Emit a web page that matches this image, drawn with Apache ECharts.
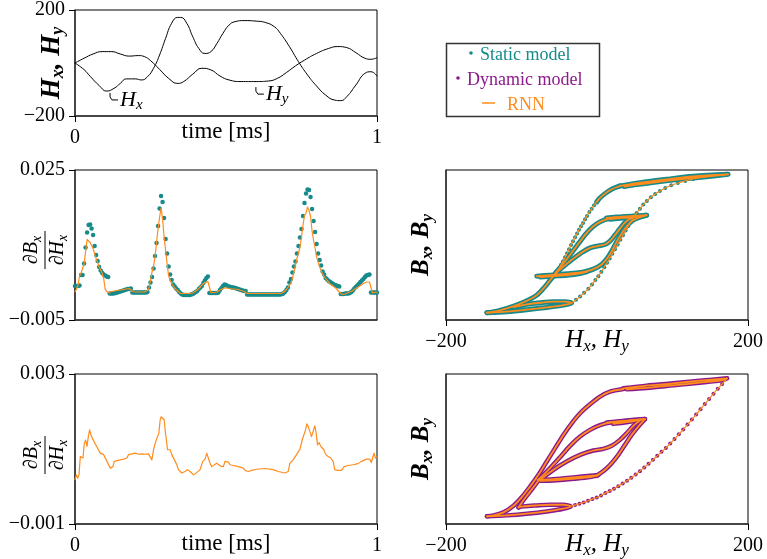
<!DOCTYPE html>
<html>
<head>
<meta charset="utf-8">
<script src="https://cdn.jsdelivr.net/npm/echarts@6.0.0/dist/echarts.min.js"></script>
<style>
html, body { margin: 0; padding: 0; background: #fff; }
#main { width: 767px; height: 559px; }
</style>
</head>
<body>
<div id="main"></div>
<script>
// ---- panel 1: field strength over time
var hxT = [0,0.03,0.05,0.08,0.105,0.13,0.15,0.17,0.2,0.22,0.24,0.26,0.28,0.3,0.32,0.34,0.35,0.37,0.39,0.41,0.43,0.45,0.47,0.49,0.51,0.53,0.56,0.6,0.63,0.66,0.68,0.71,0.74,0.77,0.8,0.83,0.86,0.88,0.9,0.93,0.96,0.98,1.0];
var hx  = [0,-25,-50,-85,-106,-95,-77,-60,-60,-64,-52,-20,30,93,150,172,172,150,99,55,36,43,74,112,143,156,160,158,153,137,112,62,5,-45,-87,-121,-140,-142,-127,-83,-39,-33,-49];
var hyT = [0,0.03,0.06,0.09,0.12,0.15,0.18,0.21,0.23,0.25,0.28,0.31,0.34,0.36,0.39,0.42,0.45,0.48,0.51,0.55,0.6,0.64,0.67,0.7,0.73,0.76,0.8,0.84,0.87,0.9,0.93,0.96,0.98,1.0];
var hy  = [0,18,34,43,43,34,26,28,24,9,-24,-58,-77,-70,-42,-20,-26,-49,-64,-70,-70,-68,-58,-36,-11,11,36,55,62,58,39,18,14,20];
var timeTicks = [0, 1];
var hTicks = [-200, 200];

// ---- panel 2: dBx/dHx (x1e-3), sampled every DT ms
var DT = 0.005;
var staticDbdh = [
  1.8,1.8,1.8,1.9,4.0,4.0,6.3,9.5,12.5,14.0,
  14.1,13.3,12.0,9.8,8.0,6.8,5.6,4.9,4.4,4.1,
  3.9,3.7,3.6,0.3,0.3,0.3,0.35,0.4,0.5,0.6,
  0.7,0.8,0.9,1.0,1.1,1.2,1.2,1.3,0.5,0.5,
  0.5,0.5,0.5,0.5,0.5,0.5,0.5,0.5,0.6,1.5,
  2.5,3.6,5.3,7.8,10.4,13.8,17.3,19.8,18.6,15.4,
  11.2,8.3,5.7,4.1,3.0,2.1,1.7,1.3,1.0,0.6,
  0.3,0.1,0.0,0.0,0.0,0.0,0.0,0.1,0.2,0.4,
  0.6,0.8,1.2,1.5,1.8,2.4,2.9,3.4,3.7,0.4,
  0.4,0.4,0.4,0.4,0.4,0.5,1.0,1.4,1.8,2.1,
  2.0,1.8,1.7,1.6,1.5,1.5,1.4,1.3,1.2,1.1,
  1.0,0.9,0.8,0.8,0.1,0.1,0.1,0.1,0.1,0.1,
  0.1,0.1,0.1,0.1,0.1,0.1,0.1,0.1,0.1,0.1,
  0.1,0.1,0.1,0.1,0.1,0.1,0.1,0.2,0.3,0.6,
  1.0,1.5,2.5,3.2,4.5,5.7,6.7,8.3,9.8,11.5,
  13.2,15.8,18.4,20.3,21.1,21.0,19.6,17.2,14.8,12.6,
  10.2,8.3,7.0,5.9,4.7,4.1,3.4,3.1,2.8,2.6,
  2.4,2.2,2.0,1.9,1.8,1.7,0.2,0.2,0.2,0.3,
  0.3,0.3,0.4,0.6,0.9,1.3,1.6,1.9,2.2,2.6,
  2.9,3.2,3.6,3.9,4.0,4.1,0.5,0.5,0.5,0.5,
  0.5];
var rnnDbdh = [
  0.65,1.2,2.0,3.8,4.4,4.8,6.2,8.6,11.1,11.0,
  10.5,10.1,9.3,8.2,7.3,6.5,5.6,5.0,4.3,3.3,
  1.1,0.9,0.4,0.6,0.7,0.7,0.8,0.9,0.9,1.0,
  1.0,1.1,1.1,1.2,1.2,1.2,1.3,1.0,0.7,0.6,
  0.6,0.6,0.6,0.6,0.6,0.6,0.6,0.6,0.9,1.4,
  2.9,4.6,5.8,7.6,10.5,13.2,15.5,17.4,15.2,11.6,
  9.0,6.2,3.9,3.0,2.3,1.9,1.4,1.1,0.8,0.5,
  0.3,0.3,0.3,0.3,0.3,0.3,0.3,0.3,0.4,0.6,
  0.8,1.0,1.3,1.6,2.0,2.3,2.5,2.7,2.7,2.3,
  0.5,0.5,0.5,0.5,0.6,0.8,1.0,1.2,1.3,1.4,
  1.45,1.4,1.3,1.2,1.2,1.2,1.2,1.2,1.1,1.0,
  0.9,0.8,0.7,0.6,0.3,0.3,0.3,0.3,0.3,0.3,
  0.3,0.3,0.3,0.3,0.3,0.3,0.3,0.3,0.3,0.3,
  0.3,0.3,0.3,0.3,0.3,0.3,0.3,0.3,0.5,0.8,
  1.1,1.4,1.9,2.4,3.3,4.6,6.0,7.3,8.4,9.6,
  11.6,14.0,15.9,16.4,17.6,16.9,15.7,12.8,10.9,9.4,
  7.6,6.6,5.6,4.9,4.2,3.7,3.3,2.9,2.5,2.2,
  2.0,1.8,1.5,1.3,1.0,0.6,0.3,0.1,0.0,0.2,
  0.5,0.5,0.6,0.7,1.0,1.1,1.3,1.5,1.7,1.9,
  2.1,2.3,2.5,2.6,2.8,2.6,1.5,0.4,0.6,0.6,
  0.5];
var dbdhTicks = [-5, 25];

// ---- panel 3: RNN for dynamic model (t, x1e-3)
var rnnDynDbdh = [
  [0,0.18],[0.0044,0.31],[0.0088,0.22],[0.0132,0.31],[0.0176,0.80],[0.022,0.85],[0.0264,0.76],[0.0308,1.15],
  [0.0353,1.24],[0.0397,1.07],[0.0441,1.33],[0.0485,1.51],[0.0529,1.38],[0.0573,1.29],[0.0617,1.24],[0.0661,1.15],
  [0.0705,1.11],[0.0749,1.02],[0.0793,0.98],[0.0837,0.89],[0.0892,0.87],[0.0947,0.85],[0.1002,0.80],[0.1058,0.67],
  [0.1113,0.67],[0.1168,0.49],[0.1212,0.45],[0.1256,0.53],[0.13,0.67],[0.1388,0.69],[0.1498,0.71],[0.1608,0.73],
  [0.1718,0.76],[0.1774,0.85],[0.1884,0.87],[0.1994,0.89],[0.2049,0.92],[0.2104,0.86],[0.2214,0.87],[0.2324,0.86],
  [0.2434,0.87],[0.249,0.82],[0.2545,0.71],[0.26,0.98],[0.2655,1.15],[0.2732,1.33],[0.2776,1.42],[0.282,1.78],
  [0.2853,1.86],[0.2908,1.85],[0.2952,1.78],[0.2996,1.42],[0.304,1.15],[0.3062,0.98],[0.3106,0.93],[0.315,0.98],
  [0.3206,0.85],[0.3261,0.85],[0.3316,0.67],[0.3371,0.58],[0.3426,0.45],[0.3536,0.36],[0.3646,0.40],[0.3723,0.45],
  [0.3811,0.40],[0.3922,0.31],[0.4032,0.37],[0.4142,0.45],[0.423,0.67],[0.4307,0.73],[0.4362,0.89],[0.4417,0.89],
  [0.4472,0.62],[0.4527,0.53],[0.4583,0.58],[0.4693,0.62],[0.4803,0.55],[0.4913,0.53],[0.4967,0.67],[0.5077,0.65],
  [0.5132,0.58],[0.5243,0.56],[0.5408,0.53],[0.5573,0.49],[0.565,0.42],[0.5738,0.40],[0.5848,0.43],[0.6013,0.46],
  [0.6289,0.48],[0.6564,0.45],[0.6729,0.40],[0.695,0.36],[0.706,0.40],[0.7115,0.62],[0.7225,0.71],[0.7335,0.85],
  [0.7446,0.99],[0.7523,1.24],[0.7589,1.24],[0.7633,1.51],[0.7677,1.67],[0.7721,1.60],[0.7776,1.47],[0.7831,1.33],
  [0.7886,1.47],[0.7941,1.62],[0.7986,1.42],[0.803,1.11],[0.8085,1.17],[0.814,1.07],[0.8195,1.11],[0.8239,0.98],
  [0.8305,0.85],[0.8382,0.80],[0.8471,0.76],[0.8547,0.67],[0.8602,0.45],[0.8713,0.43],[0.8823,0.43],[0.8911,0.53],
  [0.9043,0.56],[0.9208,0.58],[0.9374,0.61],[0.9484,0.67],[0.9649,0.73],[0.9759,0.73],[0.9814,0.64],[0.9869,0.80],
  [0.9902,0.89],[0.9946,0.76],[1.0,0.79]];
var dynTicks = [-1, 3];

// ---- panel 4: static model B-H paths (H, B normalised)
var stTopLoop = [[30.4,0.787],[56.9,0.831],[92.1,0.876],[127.4,0.916],[173.6,0.942],[145.0,0.911],[109.8,0.876],[78.9,0.840],[52.5,0.805],[36.2,0.778]];
var stUpperArc = [[30.4,0.787],[19.4,0.743],[10.6,0.685],[3.1,0.619],[-0.4,0.574]];
var stArcDots = [[-0.4,0.574],[-3.9,0.530],[-7.0,0.485],[-10.1,0.441],[-13.2,0.388],[-15.8,0.344],[-18.5,0.295],[-21.1,0.250],[-23.8,0.202],[-26.4,0.153],[-29.0,0.104],[-31.7,0.051],[-34.3,0.000],[-37.0,-0.056],[-39.6,-0.109],[-42.3,-0.162],[-44.9,-0.215],[-47.6,-0.264],[-50.2,-0.313],[-52.8,-0.357]];
var stLowerArc = [[-52.8,-0.357],[-58.6,-0.424],[-64.3,-0.499],[-70.9,-0.579],[-79.7,-0.668],[-90.7,-0.734],[-104.0,-0.792],[-119.4,-0.845],[-132.6,-0.881],[-145.8,-0.903]];
var stBottomLoop = [[-145.8,-0.903],[-119.4,-0.889],[-92.9,-0.863],[-66.5,-0.832],[-44.5,-0.801],[-33.5,-0.774],[-42.3,-0.756],[-57.7,-0.756],[-75.3,-0.770],[-92.9,-0.792],[-110.6,-0.827]];
var stRising = [[-33.5,-0.774],[-27.7,-0.730],[-22.4,-0.685],[-17.1,-0.637],[-11.4,-0.583],[-6.6,-0.526],[-2.2,-0.468],[1.8,-0.415],[5.8,-0.357],[9.7,-0.295],[13.3,-0.237],[16.8,-0.180],[20.3,-0.118],[23.8,-0.056],[27.4,0.007],[30.9,0.069],[34.4,0.131],[37.9,0.193],[41.5,0.255],[45.0,0.312],[48.5,0.370],[52.5,0.428],[56.9,0.485],[61.3,0.539],[66.1,0.587],[71.4,0.636],[77.1,0.681],[83.3,0.720],[90.4,0.760],[98.3,0.796],[107.1,0.827],[116.8,0.854],[127.4,0.880],[138.8,0.902],[151.2,0.920],[162.6,0.933],[173.6,0.942]];
var stInnerLow = [[-79.7,-0.415],[-62.1,-0.402],[-40.1,-0.384],[-22.4,-0.366],[-13.6,-0.357],[-22.4,-0.379],[-40.1,-0.402],[-57.7,-0.415],[-75.3,-0.428]];
var stInnerTop = [[12.8,0.361],[30.4,0.375],[48.1,0.388],[65.7,0.397],[52.5,0.375],[34.8,0.361],[17.2,0.344]];
var stInnerLeft = [[-55.5,-0.379],[-48.0,-0.291],[-40.1,-0.189],[-32.1,-0.082],[-23.8,0.029],[-15.0,0.144],[-5.7,0.242],[4.0,0.308],[15.0,0.352],[26.0,0.370]];
var stInnerMid = [[-53.3,-0.366],[-42.3,-0.268],[-31.2,-0.180],[-20.2,-0.100],[-9.2,-0.038],[1.8,-0.011],[10.6,0.007],[17.2,0.051],[23.8,0.131],[30.4,0.219],[37.0,0.299],[43.7,0.352],[52.5,0.379]];
var stInnerRight = [[-18.0,-0.362],[-4.8,-0.322],[6.2,-0.260],[14.1,-0.171],[20.3,-0.069],[26.0,0.042],[32.6,0.153],[39.3,0.250],[47.2,0.326],[56.9,0.370],[65.7,0.397]];

// ---- panel 5: dynamic model B-H paths
var dyTopLoop = [[34.8,0.809],[65.7,0.845],[100.9,0.876],[136.2,0.911],[172.3,0.942],[167.0,0.920],[136.2,0.884],[100.9,0.849],[65.7,0.814],[39.3,0.796]];
var dyOuterArc = [[34.8,0.800],[17.2,0.765],[4.0,0.698],[-9.2,0.596],[-22.4,0.476],[-33.5,0.343],[-44.5,0.188],[-55.5,0.011],[-66.5,-0.167],[-77.5,-0.344],[-88.5,-0.499],[-99.5,-0.641],[-110.6,-0.756],[-123.8,-0.845],[-137.0,-0.885],[-145.8,-0.898]];
var dyBottomLoop = [[-145.8,-0.898],[-119.4,-0.885],[-92.9,-0.863],[-66.5,-0.832],[-44.5,-0.796],[-34.8,-0.765],[-44.5,-0.743],[-62.1,-0.743],[-79.7,-0.752],[-97.3,-0.765],[-104.0,-0.779]];
var dyConnector = [[-104.0,-0.779],[-99.5,-0.712],[-92.9,-0.623],[-85.0,-0.521],[-77.5,-0.419]];
var dyRising = [[-34.8,-0.765],[-29.0,-0.748],[-23.3,-0.730],[-17.6,-0.712],[-11.9,-0.690],[-6.1,-0.668],[-0.4,-0.646],[5.3,-0.619],[11.1,-0.588],[16.8,-0.561],[22.5,-0.530],[28.2,-0.495],[34.0,-0.459],[39.7,-0.424],[45.4,-0.384],[51.2,-0.340],[56.9,-0.295],[62.6,-0.246],[68.3,-0.198],[74.1,-0.144],[79.8,-0.091],[85.5,-0.038],[91.2,0.015],[97.0,0.073],[102.7,0.135],[108.4,0.197],[114.2,0.259],[119.9,0.326],[125.6,0.392],[131.3,0.459],[137.1,0.530],[142.8,0.601],[148.5,0.667],[154.3,0.738],[160.0,0.805],[165.7,0.867],[172.3,0.942]];
var dyInnerLow = [[-78.8,-0.410],[-57.7,-0.402],[-31.2,-0.379],[-9.2,-0.357],[1.8,-0.348],[-9.2,-0.375],[-31.2,-0.397],[-57.7,-0.419],[-75.3,-0.424]];
var dyInnerLeft = [[-77.5,-0.410],[-62.1,-0.255],[-48.9,-0.109],[-35.7,0.042],[-22.4,0.166],[-9.2,0.255],[4.0,0.317],[17.2,0.352],[39.3,0.374],[63.5,0.397]];
var dyInnerTop = [[12.8,0.352],[39.3,0.379],[63.5,0.401],[52.5,0.379],[39.3,0.357],[21.6,0.335]];
var dyInnerMid = [[-75.3,-0.410],[-57.7,-0.277],[-40.1,-0.167],[-22.4,-0.078],[-4.8,-0.020],[8.4,0.002],[19.4,0.042],[30.4,0.122],[39.3,0.210],[48.1,0.308],[56.9,0.379]];
var dyInnerRight = [[-0.4,-0.357],[10.6,-0.277],[19.4,-0.189],[28.2,-0.078],[37.0,0.055],[45.9,0.188],[54.7,0.299],[63.5,0.397]];
var bRange = [-1, 1];

// annotation anchors in panel 1 (t, H)
var hookAt = [[0.116, -113], [0.599, -91]];
var hookSub = ['x', 'y'];

var SERIF = '"Liberation Serif", "Times New Roman", "DejaVu Serif", serif';
var TEAL = '#178a8a', PURPLE = '#8b1a8b', ORANGE = '#ff8c1c';

var chart = echarts.init(document.getElementById('main'));

function minus(v) { return String(v).replace('-', '\u2212'); }
function milli(v) { return minus((v / 1000).toFixed(3)); }
function zip(a, b) { return a.map(function (v, i) { return [v, b[i]]; }); }
function onGrid(vals) { return vals.map(function (v, i) { return [i * DT, v]; }); }

function subRich(bold, size, sub, pad) {
    return {
        b: {fontFamily: SERIF, fontSize: size, fontStyle: 'italic', fontWeight: bold ? 'bold' : 'normal', color: '#000'},
        s: {fontFamily: SERIF, fontSize: sub, fontStyle: 'italic', fontWeight: bold ? 'bold' : 'normal', color: '#000', padding: [pad, 0, 0, 0]}
    };
}

function axis(gi, ticks, o) {
    var a = {
        gridIndex: gi, type: 'value', min: ticks[0], max: ticks[1], interval: ticks[1] - ticks[0],
        axisLine: {show: true, onZero: false, lineStyle: {color: '#333', width: 1.5}},
        axisTick: {show: o.ticks !== false, length: 6, lineStyle: {color: '#000', width: 1}},
        axisLabel: {show: o.labels !== false, margin: o.margin || 12, fontSize: 20, fontFamily: SERIF, color: '#000', formatter: o.fmt || minus},
        splitLine: {show: false},
        nameMoveOverlap: false
    };
    if (o.name) {
        a.name = o.name;
        a.nameLocation = 'middle';
        a.nameGap = o.gap;
        a.nameRotate = o.rot || 0;
        a.nameTextStyle = {color: '#000', fontFamily: SERIF, fontSize: 23, rich: o.rich};
    }
    return a;
}

function grid(l, t, w, h) {
    return {left: l, top: t, width: w, height: h, show: true, borderColor: '#000', borderWidth: 1,
        containLabel: false, outerBoundsMode: 'none'};
}

function line(ax, data, color, width, smooth) {
    return {type: 'line', xAxisIndex: ax, yAxisIndex: ax, data: data, symbol: 'none', showSymbol: false,
        smooth: smooth, silent: true, lineStyle: {color: color, width: width, join: 'round', cap: 'round'}};
}
function dots(ax, data, color, size) {
    return {type: 'scatter', xAxisIndex: ax, yAxisIndex: ax, data: data, symbolSize: size, silent: true,
        itemStyle: {color: color, opacity: 1}};
}

var series = [];
// panel 1
series.push(line(0, zip(hxT, hx), '#000', 1, 0.5));
series.push(line(0, zip(hyT, hy), '#000', 1, 0.5));
// panel 2
series.push(dots(1, onGrid(staticDbdh), TEAL, 4.5));
series.push(line(1, onGrid(rnnDbdh), ORANGE, 1.2, false));
// panel 3
series.push(line(2, rnnDynDbdh, ORANGE, 1.2, false));
// panel 4
var stBands = [stTopLoop, stUpperArc, stLowerArc, stBottomLoop, stInnerLow, stInnerTop, stInnerLeft, stInnerMid, stInnerRight];
stBands.forEach(function (p) { series.push(line(3, p, TEAL, 5, 0.3)); });
series.push(dots(3, stArcDots, TEAL, 4));
series.push(dots(3, stRising, TEAL, 4));
stBands.forEach(function (p) { series.push(line(3, p, ORANGE, 1.8, 0.3)); });
series.push(line(3, stArcDots, ORANGE, 1.2, 0.3));
series.push(line(3, stRising, ORANGE, 1.2, 0.3));
// panel 5
var dyBands = [dyTopLoop, dyOuterArc, dyBottomLoop, dyConnector, dyInnerLow, dyInnerLeft, dyInnerTop, dyInnerMid, dyInnerRight];
dyBands.forEach(function (p) { series.push(line(4, p, PURPLE, 4.5, 0.3)); });
series.push(dots(4, dyRising, PURPLE, 4));
dyBands.forEach(function (p) { series.push(line(4, p, ORANGE, 1.8, 0.3)); });
series.push(line(4, dyRising, ORANGE, 1.2, 0.3));

var hName = '{b|H}{s|x}{b|, H}{s|y}';
var bName = '{b|B}{s|x}{b|, B}{s|y}';

var option = {
    animation: false,
    textStyle: {fontFamily: SERIF},
    grid: [grid(75, 10, 302, 106), grid(75, 170, 302, 150), grid(75, 374, 302, 150), grid(446, 170, 302, 150), grid(446, 374, 302, 150)],
    xAxis: [
        axis(0, timeTicks, {margin: 12, name: 'time [ms]', gap: 4}),
        axis(1, timeTicks, {labels: false, ticks: false}),
        axis(2, timeTicks, {margin: 12, name: 'time [ms]', gap: 8}),
        axis(3, hTicks, {margin: 12, name: hName, gap: 6, rich: subRich(false, 25, 17, 12)}),
        axis(4, hTicks, {margin: 12, name: hName, gap: 6, rich: subRich(false, 25, 17, 12)})
    ],
    yAxis: [
        axis(0, hTicks, {margin: 10, name: hName, gap: 8, rot: 90, rich: subRich(true, 27, 18, 12)}),
        axis(1, dbdhTicks, {margin: 10, fmt: milli}),
        axis(2, dynTicks, {margin: 10, fmt: milli}),
        axis(3, bRange, {labels: false, ticks: false, name: bName, gap: 10, rot: 90, rich: subRich(true, 25, 17, 12)}),
        axis(4, bRange, {labels: false, ticks: false, name: bName, gap: 10, rot: 90, rich: subRich(true, 25, 17, 12)})
    ],
    series: series
};
chart.setOption(option);

// fraction labels, legend box and curve annotations
var fracRich = {
    v: {fontFamily: SERIF, fontSize: 20, fontStyle: 'italic', fill: '#000'},
    s: {fontFamily: SERIF, fontSize: 14, fontStyle: 'italic', fill: '#000', padding: [10, 0, 0, 0]}
};
function fraction(cx, cy) {
    return {
        type: 'group', x: cx, y: cy, rotation: Math.PI / 2,
        children: [
            {type: 'text', x: 0, y: -1, style: {text: '{v|\u2202B}{s|x}', rich: fracRich, align: 'center', verticalAlign: 'bottom', fill: '#000'}},
            {type: 'line', shape: {x1: -19, y1: 0, x2: 19, y2: 0}, style: {stroke: '#000', lineWidth: 1}},
            {type: 'text', x: 0, y: 1, style: {text: '{v|\u2202H}{s|x}', rich: fracRich, align: 'center', verticalAlign: 'top', fill: '#000'}}
        ]
    };
}

var legendFont = '18px ' + SERIF;
var graphics = [
    fraction(45, 250),
    fraction(45, 455),
    {type: 'rect', shape: {x: 446.5, y: 43.5, width: 153, height: 73}, style: {fill: '#fff', stroke: '#333', lineWidth: 1.5}},
    {type: 'circle', shape: {cx: 471, cy: 53, r: 1.8}, style: {fill: TEAL}},
    {type: 'text', x: 480, y: 55, style: {text: 'Static model', fill: TEAL, font: legendFont, verticalAlign: 'middle'}},
    {type: 'circle', shape: {cx: 458, cy: 78, r: 1.8}, style: {fill: PURPLE}},
    {type: 'text', x: 467, y: 80, style: {text: 'Dynamic model', fill: PURPLE, font: legendFont, verticalAlign: 'middle'}},
    {type: 'line', shape: {x1: 482, y1: 103, x2: 495, y2: 103}, style: {stroke: ORANGE, lineWidth: 1.5}},
    {type: 'text', x: 507, y: 105, style: {text: 'RNN', fill: ORANGE, font: legendFont, verticalAlign: 'middle'}}
];
var annRich = {
    b: {fontFamily: SERIF, fontSize: 22, fontStyle: 'italic', fill: '#000'},
    s: {fontFamily: SERIF, fontSize: 15, fontStyle: 'italic', fill: '#000', padding: [10, 0, 0, 0]}
};
hookAt.forEach(function (pt, i) {
    var p = chart.convertToPixel({gridIndex: 0}, pt);
    graphics.push({type: 'polyline', shape: {points: [[p[0], p[1]], [p[0], p[1] + 4], [p[0] + 2, p[1] + 7], [p[0] + 8, p[1] + 7]]},
        style: {stroke: '#000', lineWidth: 1, fill: null}});
    graphics.push({type: 'text', x: p[0] + 10, y: p[1] + 7,
        style: {text: '{b|H}{s|' + hookSub[i] + '}', rich: annRich, verticalAlign: 'middle', fill: '#000'}});
});
chart.setOption({graphic: graphics});
</script>
</body>
</html>
